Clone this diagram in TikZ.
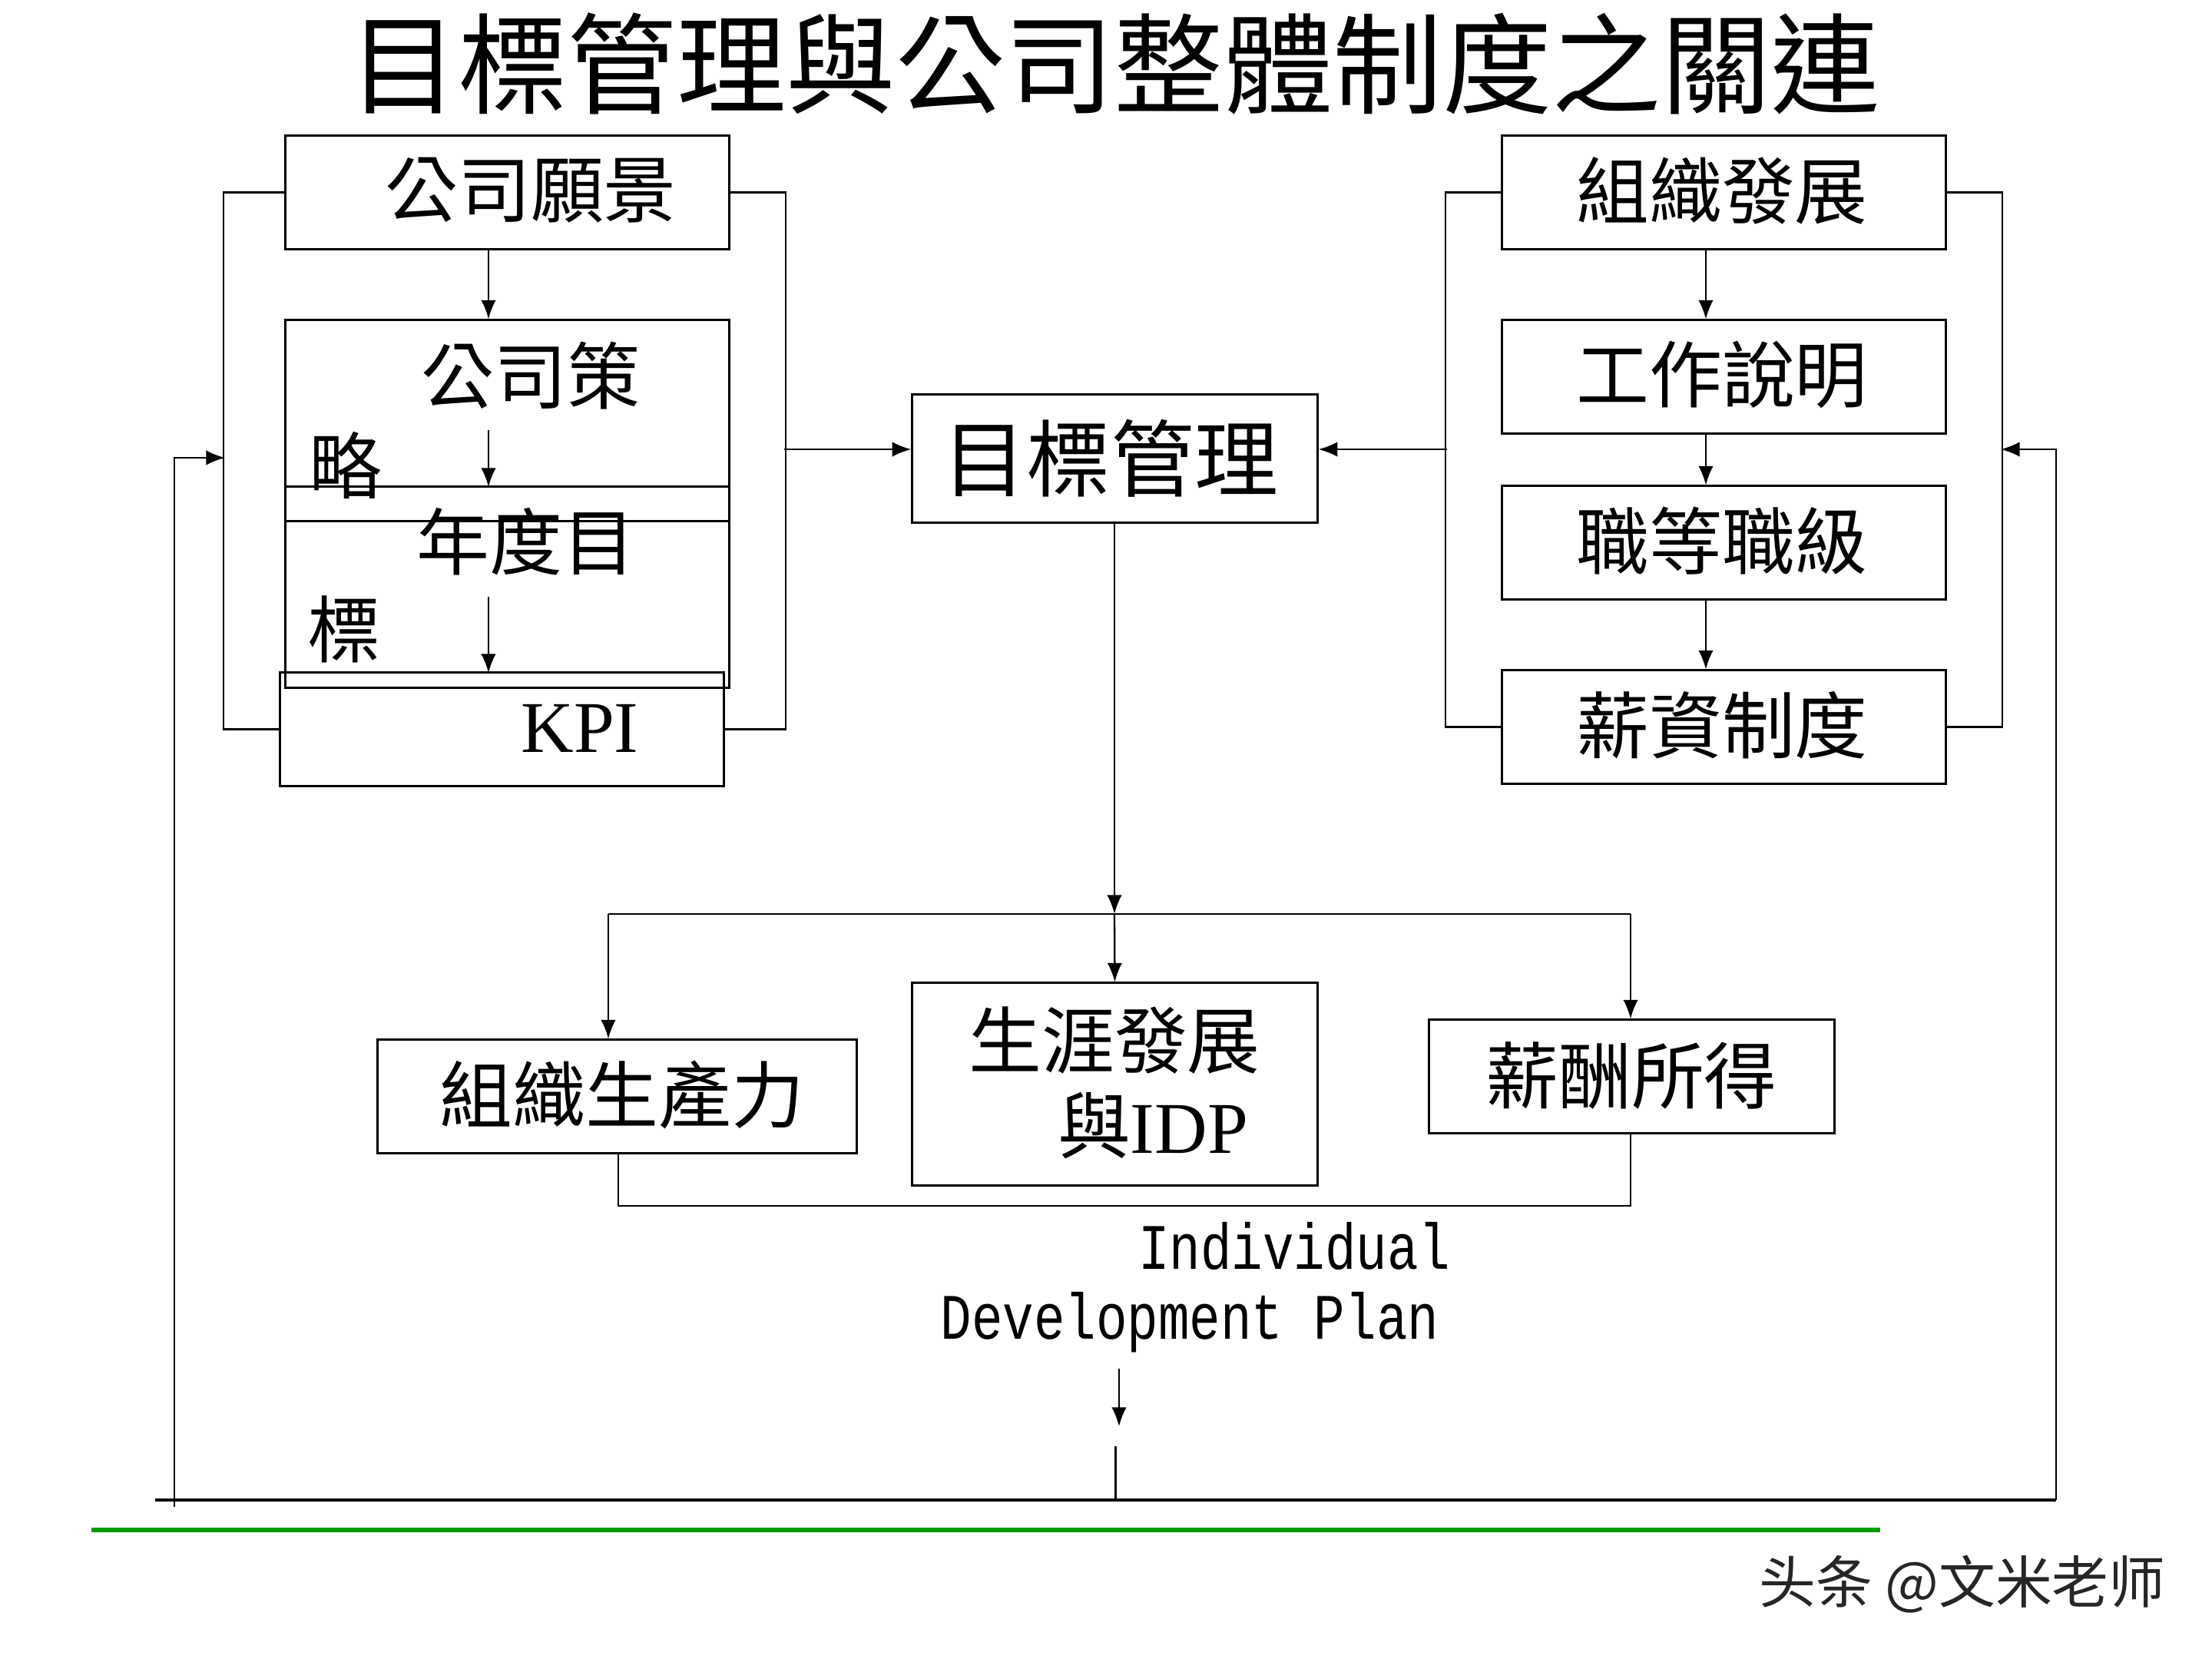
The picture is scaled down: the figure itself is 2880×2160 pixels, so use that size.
\documentclass[tikz,border=0pt]{standalone}
\usepackage{fontspec}
\setmainfont{Liberation Serif}
\newfontfamily\cjk{Noto Sans CJK TC}
\newfontfamily\cjksc{Noto Sans CJK SC}
\newfontfamily\condmono[FakeStretch=0.8]{Liberation Mono}
\usetikzlibrary{arrows.meta}
\definecolor{lgreen}{RGB}{0,153,0}
\tikzset{
  box/.style={draw, line width=0.85pt, inner sep=0pt, rectangle},
  conn/.style={line width=0.65pt},
  arr/.style={conn, -{Latex[length=7pt,width=5.5pt]}},
  cjkt/.style={font=\cjk\fontsize{27}{30}\selectfont, inner sep=0pt},
  serift/.style={font=\fontsize{27}{30}\selectfont, inner sep=0pt},
  monot/.style={font=\condmono\fontsize{24}{28}\selectfont, inner sep=0pt},
}
\begin{document}
\begin{tikzpicture}[x=0.01cm,y=-0.01cm]
\useasboundingbox (0,0) rectangle (2880,2160);

% title
\node[font=\cjk\fontsize{40.5}{44}\selectfont, inner sep=0pt] (title) at (1451,83) {目標管理與公司整體制度之關連};

% left column
\node[box, minimum width=5.77cm, minimum height=1.47cm] (vision) at (660.5,250.5) {};
\node[box, minimum width=5.77cm, minimum height=2.61cm] (strategy) at (660.5,547.5) {};
\node[box, minimum width=5.77cm, minimum height=2.61cm] (annual) at (660.5,764.5) {};
\node[box, minimum width=5.77cm, minimum height=1.47cm] (kpi) at (653.5,949.5) {};
\node[cjkt] (tvision) at (691,248) {公司願景};
\node[cjkt] (tstrat1) at (691,489) {公司策};
\node[cjkt] (tstrat2) at (450,606) {略};
\node[cjkt] (tannual1) at (685,705) {年度目};
\node[cjkt] (tannual2) at (448,819) {標};
\node[serift] (tkpi) at (755,948) {KPI};

% center
\node[box, minimum width=5.27cm, minimum height=1.66cm] (goal) at (1451.5,597) {};
\node[font=\cjk\fontsize{31}{34}\selectfont, inner sep=0pt] (tgoal) at (1446,597) {目標管理};

% right column
\node[box, minimum width=5.77cm, minimum height=1.47cm] (orgdev) at (2244.5,250.5) {};
\node[box, minimum width=5.77cm, minimum height=1.47cm] (jobdesc) at (2244.5,490.5) {};
\node[box, minimum width=5.77cm, minimum height=1.47cm] (grade) at (2244.5,706.5) {};
\node[box, minimum width=5.77cm, minimum height=1.47cm] (salary) at (2244.5,946.5) {};
\node[cjkt] (torgdev) at (2242,248) {組織發展};
\node[cjkt] (tjobdesc) at (2242,488) {工作說明};
\node[cjkt] (tgrade) at (2242,704) {職等職級};
\node[cjkt] (tsalary) at (2242,944) {薪資制度};

% bottom boxes
\node[box, minimum width=6.23cm, minimum height=1.47cm] (prod) at (803.5,1427.5) {};
\node[box, minimum width=5.27cm, minimum height=2.63cm] (career) at (1451.5,1411.5) {};
\node[box, minimum width=5.27cm, minimum height=1.47cm] (pay) at (2124.5,1401.5) {};
\node[cjkt] (tprod) at (810,1425) {組織生產力};
\node[cjkt] (tcareer1) at (1451,1355) {生涯發展};
\node[serift] (tcareer2) at (1501,1466) {{\cjk 與}IDP};
\node[cjkt] (tpay) at (2124,1400) {薪酬所得};

\node[monot] (tind) at (1685,1622) {Individual};
\node[monot] (tdev) at (1549,1722) {Development Plan};

% coordinates
\coordinate (lx) at (636,0);
\coordinate (cx) at (2221,0);
\coordinate (s1) at (636,560);
\coordinate (s2) at (636,634);
\coordinate (a1) at (636,777);
\coordinate (a2) at (636,876);
\coordinate (lj) at (1021,585);
\coordinate (rj) at (1884,585);
\coordinate (lm) at (293,596);
\coordinate (ol) at (227,596);
\coordinate (olb) at (227,1962);
\coordinate (rm) at (2605,585);
\coordinate (or) at (2677,585);
\coordinate (orb) at (2677,1953);
\coordinate (bl) at (202,1953);
\coordinate (br) at (2677,1953);
\coordinate (hj) at (1451,1190);
\coordinate (hL) at (792,1190);
\coordinate (hR) at (2123,1190);
\coordinate (bb1) at (805,1570);
\coordinate (d1) at (1457,1782);
\coordinate (d2) at (1457,1857);
\coordinate (e1) at (1452,1883);
\coordinate (e2) at (1452,1953);
\coordinate (g1) at (119,1992);
\coordinate (g2) at (2448,1992);

% left column connectors
\draw[conn] (vision.west) -- ++(-79,0) |- (kpi.west);
\draw[conn] (vision.east) -- ++(72,0) |- (kpi.east);
\draw[arr] (vision.south -| lx) -- (strategy.north -| lx);
\draw[arr] (s1) -- (s2);
\draw[arr] (a1) -- (a2);
\draw[arr] (lj) -- (lj -| goal.west);

% right column connectors
\draw[conn] (orgdev.west) -- ++(-72,0) |- (salary.west);
\draw[conn] (orgdev.east) -- ++(72,0) |- (salary.east);
\draw[arr] (orgdev.south -| cx) -- (jobdesc.north -| cx);
\draw[arr] (jobdesc.south -| cx) -- (grade.north -| cx);
\draw[arr] (grade.south -| cx) -- (salary.north -| cx);
\draw[arr] (rj) -- (rj -| goal.east);

% outer feedback
\draw[arr] (olb) -- (ol) -- (lm);
\draw[arr] (orb) -- (or) -- (rm);
\draw[line width=0.9pt] (bl) -- (br);

% center down
\draw[arr] (goal.south -| hj) -- (hj);
\draw[conn] (hL) -- (hR);
\draw[arr] (hL) -- (hL |- prod.north);
\draw[arr] (hj) -- (career.north);
\draw[arr] (hR) -- (hR |- pay.north);
\draw[conn] (prod.south -| bb1) -- (bb1) -- (bb1 -| hR) -- (pay.south -| hR);
\draw[arr] (d1) -- (d2);
\draw[line width=0.85pt] (e1) -- (e2);

% green rule
\draw[lgreen, line width=1.7pt] (g1) -- (g2);

% watermark
\node[font=\cjksc\fontsize{21}{24}\selectfont, inner sep=0pt, text=black!85] (wm) at (2555,2063) {头条 @文米老师};
\end{tikzpicture}
\end{document}
